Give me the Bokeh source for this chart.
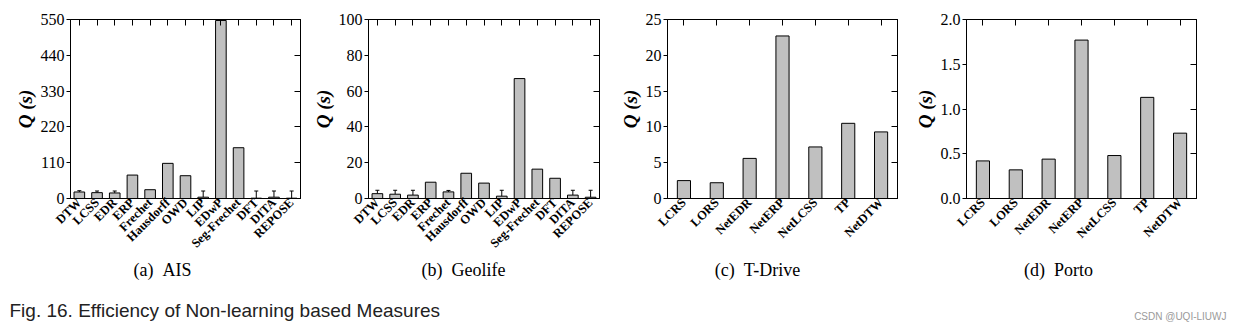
import math
from bokeh.plotting import figure
from bokeh.models import (Range1d, FactorRange, FixedTicker, LinearAxis, CategoricalAxis,
                          Whisker, ColumnDataSource, Label, TeeHead, PrintfTickFormatter,
                          CustomJSTickFormatter)
from bokeh.layouts import column, row
from bokeh.embed import file_html
from bokeh.resources import INLINE

# ---------------- data ----------------
ais_cats = ["DTW", "LCSS", "EDR", "ERP", "Frechet", "Hausdorff", "OWD", "LIP",
            "EDwP", "Seg-Frechet", "DFT", "DITA", "REPOSE"]
ais_vals = [20, 18, 17, 72, 27, 108, 70, 4, 547, 156, 1, 4, 1]
ais_err_cats = ["DTW", "LCSS", "EDR", "LIP", "DFT", "DITA", "REPOSE"]
ais_err_top = [24, 23, 23, 23, 23, 23, 23]
ais_ticks = [0, 110, 220, 330, 440, 550]

geo_cats = ais_cats
geo_vals = [2.7, 2.4, 1.9, 9.1, 3.7, 14.1, 8.6, 1.3, 67, 16.4, 11.3, 1.9, 0.7]
geo_err_cats = ["DTW", "LCSS", "EDR", "Frechet", "LIP", "DITA", "REPOSE"]
geo_err_top = [4.6, 4.6, 4.6, 4.5, 4.6, 4.6, 4.6]
geo_ticks = [0, 20, 40, 60, 80, 100]

road_cats = ["LCRS", "LORS", "NetEDR", "NetERP", "NetLCSS", "TP", "NetDTW"]
tdrive_vals = [2.5, 2.2, 5.6, 22.7, 7.2, 10.5, 9.3]
tdrive_ticks = [0, 5, 10, 15, 20, 25]
porto_vals = [0.42, 0.32, 0.44, 1.77, 0.48, 1.13, 0.73]
porto_ticks = [0.0, 0.5, 1.0, 1.5, 2.0]

captions = ["(a)\u2002AIS", "(b)\u2002Geolife", "(c)\u2002T-Drive", "(d)\u2002Porto"]
fig_caption = "Fig. 16. Efficiency of Non-learning based Measures"
watermark = "CSDN @UQI-LIUWJ"

SERIF = "Liberation Serif"
BLANK = CustomJSTickFormatter(code="return ''")
FRAME_H = 179
PANEL_BOTTOM = 60
PANEL_H = 19 + FRAME_H + PANEL_BOTTOM


def panel(cats, vals, ymax, yticks, fmt, err_cats, err_top, bar_w,
          border_left, frame_w, border_right):
    p = figure(x_range=FactorRange(*cats), y_range=Range1d(0, ymax),
               frame_width=frame_w, frame_height=FRAME_H,
               min_border_left=border_left, min_border_right=border_right,
               min_border_top=19, min_border_bottom=PANEL_BOTTOM,
               output_backend="svg", toolbar_location=None, tools="")
    p.xgrid.visible = False
    p.ygrid.visible = False
    p.outline_line_color = "black"
    p.outline_line_width = 1

    p.vbar(x=cats, top=vals, width=bar_w, fill_color="#c0c0c0",
           line_color="black", line_width=1)

    if err_cats:
        lo = [vals[cats.index(c)] for c in err_cats]
        src = ColumnDataSource(dict(x=err_cats, lo=lo, hi=err_top))
        w = Whisker(source=src, base="x", lower="lo", upper="hi",
                    line_color="black", line_width=1,
                    upper_head=TeeHead(size=4, line_color="black", line_width=1),
                    lower_head=None)
        p.add_layout(w)

    ya = p.yaxis[0]
    ya.ticker = FixedTicker(ticks=yticks)
    ya.formatter = PrintfTickFormatter(format=fmt)
    ya.major_tick_in = 0
    ya.major_tick_out = 4
    ya.minor_tick_in = 0
    ya.minor_tick_out = 0
    ya.axis_line_color = "black"
    ya.major_tick_line_color = "black"
    ya.major_label_text_font = SERIF
    ya.major_label_text_font_size = "16px"
    ya.major_label_text_color = "black"
    ya.major_label_standoff = 2
    ya.axis_label = "Q (s)"
    ya.axis_label_text_font = SERIF
    ya.axis_label_text_font_style = "bold italic"
    ya.axis_label_text_font_size = "19px"
    ya.axis_label_text_color = "black"
    ya.axis_label_standoff = 2

    xa = p.xaxis[0]
    xa.major_tick_in = 0
    xa.major_tick_out = 0
    xa.axis_line_color = "black"
    xa.major_label_orientation = math.pi / 4
    xa.major_label_text_font = SERIF
    xa.major_label_text_font_style = "bold"
    xa.major_label_text_font_size = "12.5px"
    xa.major_label_text_color = "black"
    xa.major_label_standoff = 2

    right = LinearAxis(ticker=FixedTicker(ticks=yticks), formatter=BLANK,
                       major_tick_in=6, major_tick_out=0,
                       minor_tick_in=0, minor_tick_out=0,
                       major_label_standoff=0, axis_line_color="black")
    p.add_layout(right, "right")
    top = CategoricalAxis(formatter=BLANK, major_tick_in=6, major_tick_out=0,
                          major_label_standoff=0, axis_line_color="black")
    p.add_layout(top, "above")
    return p


pa = panel(ais_cats, ais_vals, 550, ais_ticks, "%d", ais_err_cats, ais_err_top, 0.6, 70, 230, 6)
pb = panel(geo_cats, geo_vals, 100, geo_ticks, "%d", geo_err_cats, geo_err_top, 0.6, 62, 231, 6)
pc = panel(road_cats, tdrive_vals, 25, tdrive_ticks, "%d", [], [], 0.4, 62, 230, 6)
pd = panel(road_cats, porto_vals, 2.0, porto_ticks, "%.1f", [], [], 0.4, 63, 230, 43)

cap_h = 331 - PANEL_H
cap = figure(width=1239, height=cap_h, x_range=Range1d(0, 1239), y_range=Range1d(0, cap_h),
             x_axis_type=None, y_axis_type=None, min_border=0,
             output_backend="svg", toolbar_location=None, tools="")
cap.grid.visible = False
cap.outline_line_color = None

cap_x = [162, 463, 757, 1058]
for cx, txt in zip(cap_x, captions):
    cap.add_layout(Label(x=cx, y=cap_h - (269 - PANEL_H), text=txt, text_align="center",
                         text_baseline="middle", text_font=SERIF, text_font_size="18px",
                         text_color="black"))
cap.add_layout(Label(x=9, y=cap_h - (310 - PANEL_H), text=fig_caption, text_align="left",
                     text_baseline="middle", text_font="Liberation Sans",
                     text_font_size="19px", text_color="#222222"))
cap.add_layout(Label(x=1226, y=cap_h - (316 - PANEL_H), text=watermark, text_align="right",
                     text_baseline="middle", text_font="Liberation Sans",
                     text_font_size="10px", text_color="#9a9a9a"))

layout = column(row(pa, pb, pc, pd), cap)
open("out.html", "w").write(file_html(layout, INLINE))
